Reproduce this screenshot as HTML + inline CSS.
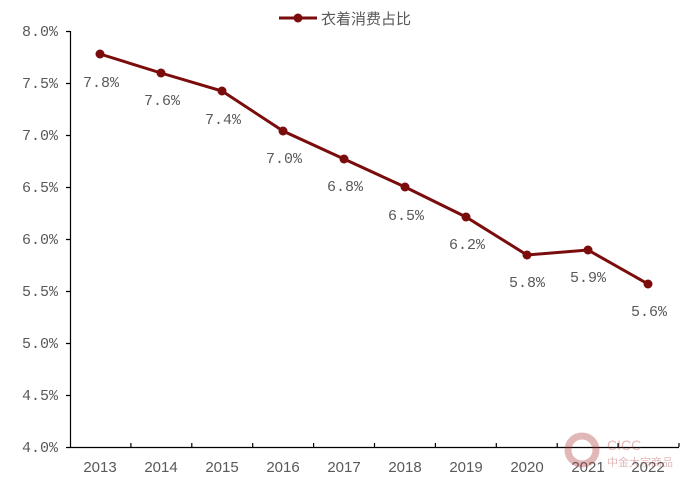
<!DOCTYPE html>
<html><head><meta charset="utf-8"><style>
body{margin:0;background:#fff;}
</style></head><body>
<svg width="693" height="484" xmlns="http://www.w3.org/2000/svg" style="display:block">
<g font-family="Liberation Mono, monospace" font-size="15" fill="#595959" text-anchor="end">
<text x="58" y="36">8.0%</text>
<text x="58" y="88">7.5%</text>
<text x="58" y="140">7.0%</text>
<text x="58" y="192">6.5%</text>
<text x="58" y="244">6.0%</text>
<text x="58" y="296">5.5%</text>
<text x="58" y="348">5.0%</text>
<text x="58" y="400">4.5%</text>
<text x="58" y="452">4.0%</text>
</g>
<g stroke="#000" stroke-width="1.2" fill="none">
<path d="M70.5 31V447.5H679"/>
<path d="M66 31.5H70M66 83.5H70M66 135.5H70M66 187.5H70M66 239.5H70M66 291.5H70M66 343.5H70M66 395.5H70M66 447.5H70"/>
<path d="M130.9 443V447M191.8 443V447M252.7 443V447M313.6 443V447M374.5 443V447M435.4 443V447M496.3 443V447M557.2 443V447M618.1 443V447M679 443V447"/>
</g>
<g font-family="Liberation Sans, sans-serif" font-size="15" fill="#595959" text-anchor="middle">
<text x="100" y="472">2013</text><text x="161" y="472">2014</text><text x="222" y="472">2015</text><text x="283" y="472">2016</text><text x="344" y="472">2017</text><text x="405" y="472">2018</text><text x="466" y="472">2019</text><text x="527" y="472">2020</text><text x="588" y="472">2021</text><text x="648" y="472">2022</text>
</g>
<polyline fill="none" stroke="#7a0c0c" stroke-width="3" points="100,54 161,73 222,91 283,131 344,159 405,187 466,217 527,255 588,250 648,284"/>
<g fill="#7a0c0c">
<circle cx="100" cy="54" r="4.5"/><circle cx="161" cy="73" r="4.5"/><circle cx="222" cy="91" r="4.5"/><circle cx="283" cy="131" r="4.5"/><circle cx="344" cy="159" r="4.5"/><circle cx="405" cy="187" r="4.5"/><circle cx="466" cy="217" r="4.5"/><circle cx="527" cy="255" r="4.5"/><circle cx="588" cy="250" r="4.5"/><circle cx="648" cy="284" r="4.5"/>
</g>
<g font-family="Liberation Mono, monospace" font-size="15" fill="#595959" text-anchor="middle">
<text x="101" y="87">7.8%</text><text x="162" y="105">7.6%</text><text x="223" y="124">7.4%</text><text x="284" y="163">7.0%</text><text x="345" y="191">6.8%</text><text x="406" y="220">6.5%</text><text x="467" y="249">6.2%</text><text x="527" y="287">5.8%</text><text x="588" y="282">5.9%</text><text x="649" y="316">5.6%</text>
</g>
<line x1="279" y1="18" x2="317" y2="18" stroke="#7a0c0c" stroke-width="3"/>
<circle cx="298" cy="18" r="4.5" fill="#7a0c0c"/>
<text x="321" y="24" font-family="Liberation Sans, Noto Sans CJK SC, sans-serif" font-size="15" fill="#595959">衣着消费占比</text>
<g opacity="0.35">
<circle cx="582" cy="450" r="14" fill="none" stroke="#a33" stroke-width="7"/>
<text x="607" y="450" font-family="Liberation Sans, sans-serif" font-size="14" fill="#a33">CICC</text>
<text x="607" y="466" font-family="Noto Sans CJK SC, sans-serif" font-size="11" fill="#a33">中金大宗商品</text>
</g>
</svg>
</body></html>
